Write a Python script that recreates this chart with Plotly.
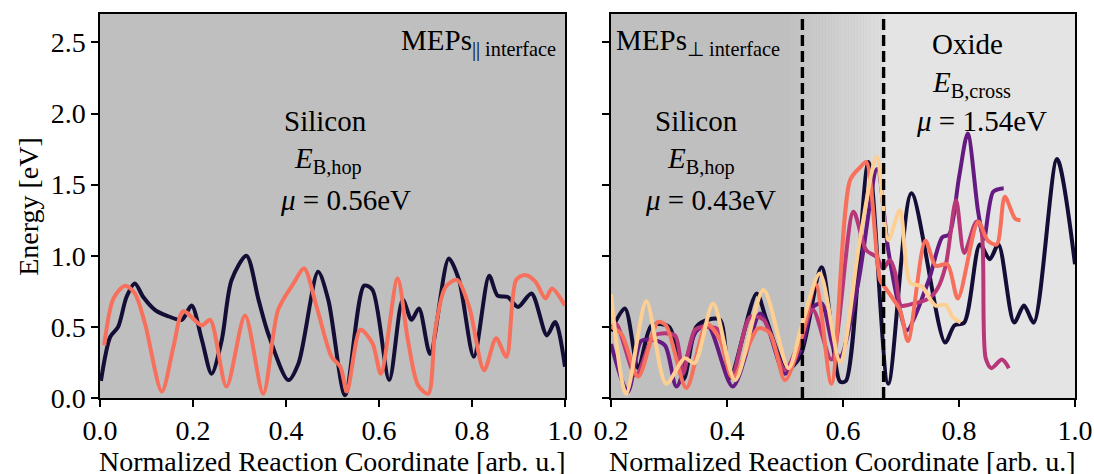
import plotly.graph_objects as go

# ---------------- data ----------------
# Left panel (MEPs parallel to interface)
L_dark_x = [0.002, 0.022, 0.039, 0.057, 0.075, 0.093, 0.118, 0.143, 0.176, 0.197, 0.219, 0.240, 0.262,
            0.283, 0.315, 0.341, 0.362, 0.405, 0.427, 0.469, 0.491, 0.527, 0.568, 0.586, 0.622, 0.651,
            0.670, 0.686, 0.710, 0.750, 0.772, 0.804, 0.837, 0.855, 0.877, 0.899, 0.928, 0.961, 0.979, 1.0]
L_dark_y = [0.12, 0.43, 0.50, 0.71, 0.805, 0.71, 0.62, 0.58, 0.55, 0.65, 0.41, 0.17, 0.41,
            0.83, 1.0, 0.69, 0.45, 0.126, 0.245, 0.887, 0.69, 0.02, 0.79, 0.76, 0.126, 0.69,
            0.55, 0.63, 0.31, 0.98, 0.83, 0.29, 0.86, 0.72, 0.71, 0.64, 0.735, 0.44, 0.535, 0.22]

L_coral_x = [0.009, 0.029, 0.054, 0.075, 0.097, 0.133, 0.158, 0.179, 0.219, 0.237, 0.272, 0.312, 0.351,
             0.383, 0.416, 0.439, 0.466, 0.498, 0.517, 0.531, 0.560, 0.586, 0.604, 0.640, 0.662, 0.684,
             0.706, 0.721, 0.743, 0.768, 0.794, 0.826, 0.852, 0.874, 0.895, 0.914, 0.936, 0.958, 0.972, 1.0]
L_coral_y = [0.37, 0.70, 0.79, 0.735, 0.52, 0.045, 0.36, 0.61, 0.51, 0.55, 0.08, 0.58, 0.03,
             0.62, 0.805, 0.91, 0.64, 0.29, 0.22, 0.045, 0.48, 0.385, 0.17, 0.84, 0.41, 0.09,
             0.03, 0.48, 0.78, 0.83, 0.64, 0.195, 0.42, 0.29, 0.83, 0.865, 0.82, 0.70, 0.77, 0.65]

# Right panel (MEPs perpendicular to interface)
R1_x = [0.200, 0.224, 0.247, 0.270, 0.300, 0.325, 0.347, 0.367, 0.388, 0.405, 0.451, 0.468, 0.503,
        0.526, 0.563, 0.595, 0.605, 0.644, 0.678, 0.718, 0.776, 0.792, 0.809, 0.836, 0.853, 0.868,
        0.895, 0.912, 0.929, 0.969, 1.0]
R1_y = [0.47, 0.63, 0.21, 0.51, 0.50, 0.13, 0.50, 0.55, 0.55, 0.14, 0.735, 0.55, 0.20,
        0.29, 0.92, 0.115, 0.12, 1.66, 0.10, 1.44, 0.39, 0.51, 0.53, 1.08, 0.975, 1.08,
        0.53, 0.65, 0.53, 1.68, 0.94]

R2_x = [0.200, 0.229, 0.252, 0.270, 0.293, 0.313, 0.347, 0.367, 0.410, 0.457, 0.471, 0.500, 0.529,
        0.546, 0.563, 0.583, 0.595, 0.626, 0.659, 0.678, 0.698, 0.710, 0.748, 0.771, 0.783, 0.800,
        0.815, 0.833, 0.843, 0.859, 0.877]
R2_y = [0.38, 0.045, 0.40, 0.41, 0.37, 0.08, 0.47, 0.51, 0.08, 0.595, 0.49, 0.17, 0.36,
        0.63, 0.665, 0.36, 0.29, 0.805, 1.61, 1.04, 0.62, 0.475, 0.83, 1.13, 1.15, 1.55,
        1.86, 1.31, 1.12, 1.45, 1.475]

R3_x = [0.200, 0.209, 0.243, 0.275, 0.310, 0.324, 0.345, 0.370, 0.385, 0.408, 0.440, 0.463, 0.500,
        0.526, 0.548, 0.580, 0.618, 0.640, 0.658, 0.669, 0.681, 0.690, 0.700, 0.713, 0.748, 0.763,
        0.777, 0.795, 0.809, 0.830, 0.838, 0.846, 0.856, 0.874, 0.886]
R3_y = [0.49, 0.52, 0.16, 0.44, 0.44, 0.17, 0.48, 0.50, 0.48, 0.15, 0.57, 0.55, 0.20,
        0.41, 0.62, 0.27, 1.31, 1.04, 0.99, 0.91, 0.97, 0.88, 0.65, 0.655, 0.70, 0.77,
        0.93, 1.39, 1.02, 1.24, 1.20, 0.28, 0.21, 0.27, 0.21]

R4_x = [0.200, 0.218, 0.247, 0.281, 0.295, 0.330, 0.365, 0.388, 0.410, 0.454, 0.474, 0.500, 0.529,
        0.553, 0.580, 0.612, 0.629, 0.640, 0.664, 0.672, 0.698, 0.712, 0.742, 0.760, 0.780, 0.798,
        0.833, 0.850, 0.865, 0.879, 0.897, 0.906]
R4_y = [0.50, 0.45, 0.15, 0.535, 0.51, 0.07, 0.52, 0.41, 0.14, 0.49, 0.455, 0.125, 0.43,
        0.80, 0.10, 1.53, 1.62, 1.66, 0.83, 0.78, 0.62, 0.40, 1.105, 0.93, 0.94, 0.70,
        1.24, 1.105, 1.08, 1.415, 1.26, 1.25]

R5_x = [0.200, 0.226, 0.261, 0.295, 0.327, 0.344, 0.376, 0.414, 0.463, 0.506, 0.529, 0.560, 0.595,
        0.629, 0.658, 0.678, 0.698, 0.716, 0.736, 0.751, 0.760, 0.777, 0.789, 0.803]
R5_y = [0.73, 0.03, 0.68, 0.10, 0.28, 0.245, 0.665, 0.125, 0.76, 0.21, 0.51, 0.875, 0.255,
        1.11, 1.695, 1.11, 1.32, 0.81, 0.785, 0.69, 0.65, 0.655, 0.57, 0.53]

x_ticks_left = [0.0, 0.2, 0.4, 0.6, 0.8, 1.0]
x_ticks_right = [0.2, 0.4, 0.6, 0.8, 1.0]
y_ticks = [0.0, 0.5, 1.0, 1.5, 2.0, 2.5]
interface_lines = [0.53, 0.67]

# ---------------- style ----------------
FONT = "Liberation Serif"
C = ["#140e36", "#641a80", "#b73779", "#f7705c", "#fecf92"]
LW = 4

fig = go.Figure()


def add_line(x, y, color, xa, ya):
    fig.add_trace(go.Scatter(x=x, y=y, mode="lines", xaxis=xa, yaxis=ya,
                             line=dict(color=color, width=LW, shape="spline", smoothing=0.8),
                             showlegend=False, hoverinfo="skip"))


add_line(L_dark_x, L_dark_y, C[0], "x", "y")
add_line(L_coral_x, L_coral_y, C[3], "x", "y")
for xs, ys, col in [(R1_x, R1_y, C[0]), (R2_x, R2_y, C[1]), (R3_x, R3_y, C[2]),
                    (R4_x, R4_y, C[3]), (R5_x, R5_y, C[4])]:
    add_line(xs, ys, col, "x2", "y2")

shapes = []
# gradient background in right panel
g0, g1 = 0.50, interface_lines[1]
n = 34
c0, c1 = 191, 222
for i in range(n):
    a = g0 + (g1 - g0) * i / n
    b = g0 + (g1 - g0) * (i + 1) / n
    v = int(round(c0 + (c1 - c0) * (i + 0.5) / n))
    shapes.append(dict(type="rect", xref="x2", yref="y2 domain", x0=a, x1=b, y0=0, y1=1,
                       fillcolor=f"rgb({v},{v},{v})", line=dict(width=0), layer="below"))
shapes.append(dict(type="rect", xref="x2", yref="y2 domain", x0=g1, x1=1.0, y0=0, y1=1,
                   fillcolor="#e4e4e4", line=dict(width=0), layer="below"))
for xv in interface_lines:
    shapes.append(dict(type="line", xref="x2", yref="y2 domain", x0=xv, x1=xv, y0=0, y1=1,
                       line=dict(color="black", width=3.4, dash="11px,5px")))

AF = 29
TF = 28
ann = []


def add_text(x, y, text, xref, yref, xanchor="center", size=AF, yanchor="middle", angle=0):
    ann.append(dict(x=x, y=y, xref=xref, yref=yref, text=text, showarrow=False,
                    xanchor=xanchor, yanchor=yanchor, textangle=angle,
                    font=dict(family=FONT, size=size, color="black")))


add_text(0.985, 2.5, "MEPs<sub>|| interface</sub>", "x", "y", "right")
add_text(0.486, 1.945, "Silicon", "x", "y")
add_text(0.49, 1.67, "<i>E</i><sub>B,hop</sub>", "x", "y")
add_text(0.527, 1.39, "<i>μ</i> = 0.56eV", "x", "y")

add_text(0.205, 2.5, "MEPs<sub>⊥ interface</sub>", "x2", "y2", "left")
add_text(0.348, 1.945, "Silicon", "x2", "y2")
add_text(0.355, 1.67, "<i>E</i><sub>B,hop</sub>", "x2", "y2")
add_text(0.371, 1.39, "<i>μ</i> = 0.43eV", "x2", "y2")
add_text(0.815, 2.49, "Oxide", "x2", "y2")
add_text(0.822, 2.21, "<i>E</i><sub>B,cross</sub>", "x2", "y2")
add_text(0.838, 1.95, "<i>μ</i> = 1.54eV", "x2", "y2")

# axis titles as paper annotations
XT = "Normalized Reaction Coordinate [arb. u.]"
add_text(0.4769 / 2, -0.166, XT, "paper", "paper", "center", size=TF)
add_text((0.5241 + 1.0) / 2, -0.166, XT, "paper", "paper", "center", size=TF)
add_text(-0.074, 0.5, "Energy [eV]", "paper", "paper", "center", size=TF, angle=-90)

axis_common = dict(showline=True, linecolor="black", linewidth=1.5, mirror=True,
                   ticks="outside", ticklen=7, tickwidth=1.5, tickcolor="black",
                   showgrid=False, zeroline=False, automargin=False,
                   tickfont=dict(family=FONT, size=TF, color="black"))

fig.update_layout(
    width=1094, height=474,
    margin=dict(l=100, r=19, t=14, b=76),
    paper_bgcolor="white", plot_bgcolor="#bfbfbf",
    shapes=shapes, annotations=ann,
    xaxis=dict(domain=[0, 0.4769], range=[0, 1.0], tickvals=x_ticks_left, tickformat=".1f",
               **axis_common),
    xaxis2=dict(domain=[0.5241, 1.0], range=[0.2, 1.0], tickvals=x_ticks_right, tickformat=".1f",
                anchor="y2", **axis_common),
    yaxis=dict(range=[0, 2.7], tickvals=y_ticks, tickformat=".1f", **axis_common),
    yaxis2=dict(range=[0, 2.7], tickvals=y_ticks, showticklabels=False, anchor="x2", **axis_common),
)

fig.write_html("out.html")
